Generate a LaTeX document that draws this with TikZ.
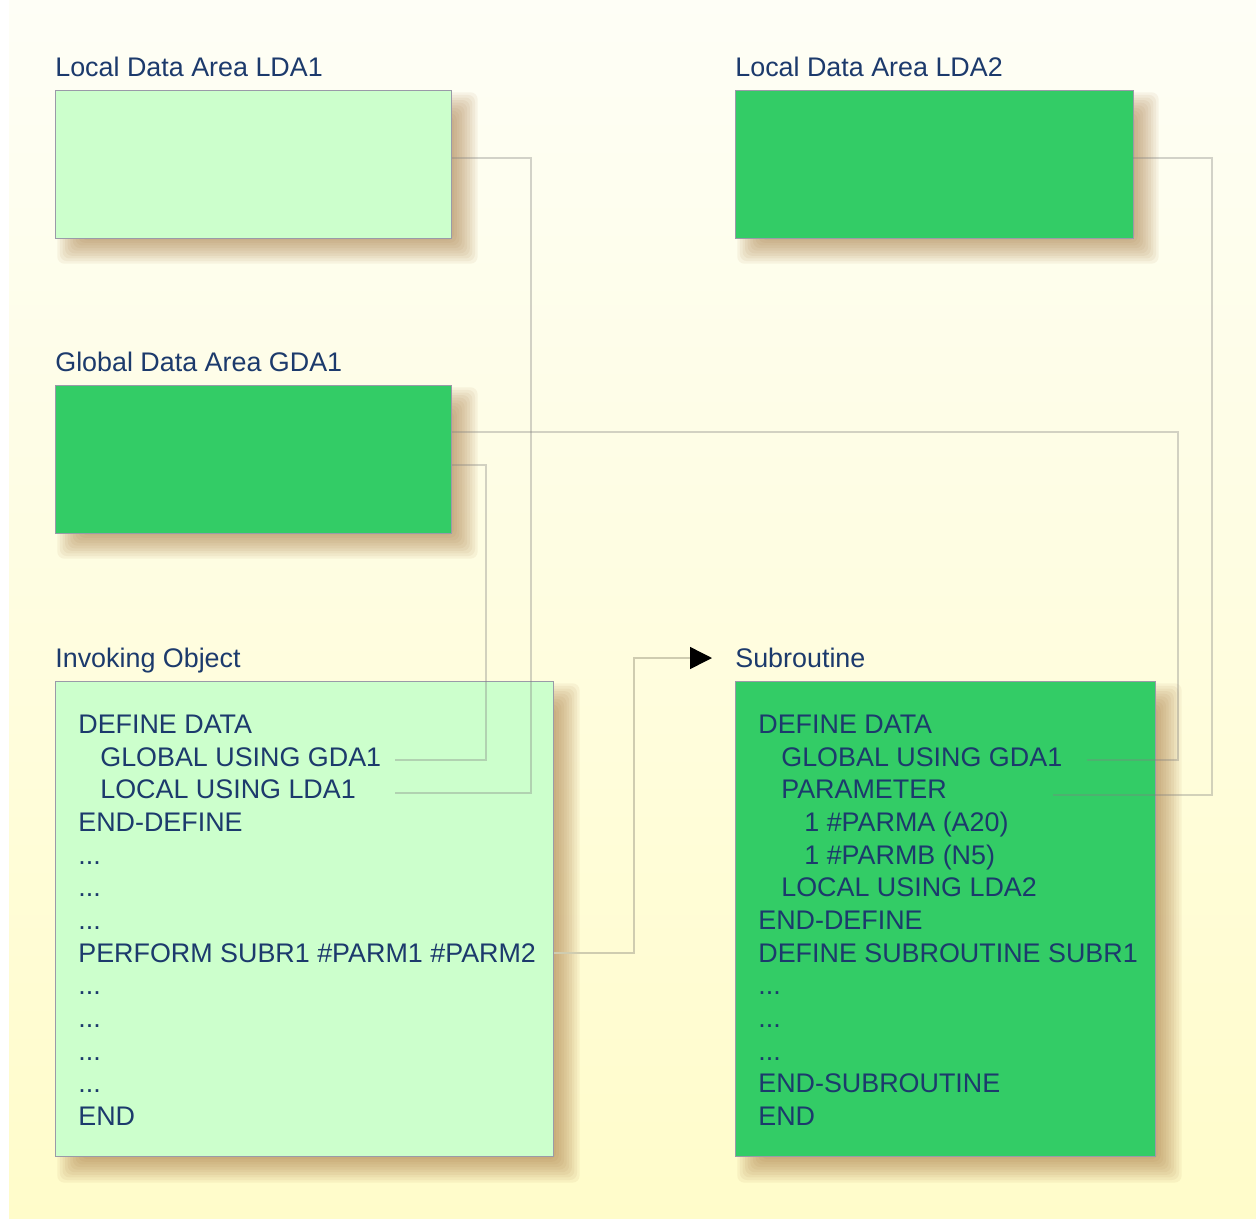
\documentclass[tikz,border=0pt]{standalone}
\usepackage{fontspec}
\setmainfont{Liberation Sans}
\usetikzlibrary{arrows.meta,calc}

\definecolor{navy}{HTML}{1C3A6C}
\definecolor{palegreen}{HTML}{CCFFCC}
\definecolor{areagreen}{HTML}{33CC66}
\definecolor{boxedge}{HTML}{9A9AA8}
\definecolor{shadowtan}{HTML}{A06C34}
\definecolor{feedgray}{HTML}{CFCCB0}

\pgfdeclarelayer{bg}
\pgfdeclarelayer{shade}
\pgfsetlayers{bg,shade,main}

\tikzset{
  area/.style={draw=boxedge, line width=0.5pt, anchor=north west, inner sep=0pt, outer sep=0pt},
  caption/.style={anchor=base west, inner sep=0pt},
  codeline/.style={anchor=base west, inner sep=0pt},
  wire/.style={draw=black!50, draw opacity=0.35, line width=0.8pt},
  feed/.style={draw=feedgray, line width=0.8pt, -{Triangle[length=0.44cm, width=0.44cm, color=black]}}
}

\newcommand\skipped{...}
% soft shadow below and right of a box
\newcommand\boxshadow[1]{%
  \begin{pgfonlayer}{shade}
    \foreach \k [evaluate=\k as \e using 13*(1-(2*\k+1)/10)] in {0,...,9}
      \fill[shadowtan, opacity=0.07, rounded corners=4pt]
        ($(#1.north west)+({14-\e},{14-\e})$) rectangle ($(#1.south east)+({14+\e},{14+\e})$);
  \end{pgfonlayer}}

\begin{document}
\begin{tikzpicture}[x=0.02cm, y=-0.02cm, font=\fontsize{15.3}{18.6}\selectfont, text=navy]
  \useasboundingbox (0,0) rectangle (1256,1220);
  \begin{pgfonlayer}{bg}
    \shade[top color={rgb,255:red,254;green,254;blue,246}, middle color={rgb,255:red,255;green,253;blue,212}, bottom color={rgb,255:red,255;green,252;blue,202}] (9,0) rectangle (1256,1218);
  \end{pgfonlayer}

  % data areas
  \node[caption] (lda1Label) at (55,76) {Local Data Area LDA1};
  \node[area, fill=palegreen, minimum width=7.94cm, minimum height=2.96cm] (lda1) at (55,90) {};
  \node[caption] (lda2Label) at (735,76) {Local Data Area LDA2};
  \node[area, fill=areagreen, minimum width=7.96cm, minimum height=2.96cm] (lda2) at (735,90) {};
  \node[caption] (gda1Label) at (55,371) {Global Data Area GDA1};
  \node[area, fill=areagreen, minimum width=7.94cm, minimum height=2.96cm] (gda1) at (55,385) {};

  % programs
  \node[caption] (invokingLabel) at (55,667) {Invoking Object};
  \node[area, fill=palegreen, minimum width=9.98cm, minimum height=9.52cm] (invoking) at (55,681) {};
  \node[caption] (subLabel) at (735,667) {Subroutine};
  \node[area, fill=areagreen, minimum width=8.42cm, minimum height=9.52cm] (sub) at (735,681) {};

  \foreach \b in {lda1,lda2,gda1,invoking,sub}
    {\boxshadow{\b}}

  \foreach \n/\ind/\txt in {1/0/DEFINE DATA, 2/1/GLOBAL USING GDA1, 3/1/LOCAL USING LDA1,
      4/0/END-DEFINE, 5/0/\skipped, 6/0/\skipped, 7/0/\skipped, 8/0/PERFORM SUBR1 \#PARM1 \#PARM2,
      9/0/\skipped, 10/0/\skipped, 11/0/\skipped, 12/0/\skipped, 13/0/END}
    \node[codeline] (io\n) at ({78+22*\ind},{733.5+32.67*(\n-1)}) {\txt};

  \foreach \n/\ind/\txt in {1/0/DEFINE DATA, 2/1/GLOBAL USING GDA1, 3/1/PARAMETER,
      4/2/1 \#PARMA (A20), 5/2/1 \#PARMB (N5), 6/1/LOCAL USING LDA2, 7/0/END-DEFINE,
      8/0/DEFINE SUBROUTINE SUBR1, 9/0/\skipped, 10/0/\skipped, 11/0/\skipped,
      12/0/END-SUBROUTINE, 13/0/END}
    \node[codeline] (su\n) at ({758+23*\ind},{733.5+32.67*(\n-1)}) {\txt};

  \coordinate (ioGlobalEnd) at (395,760);
  \coordinate (ioLocalEnd) at (395,793);
  \coordinate (suGlobalEnd) at (1087,760);
  \coordinate (suParamEnd) at (1053,795);
  \coordinate (subTip) at (712,658);

  \draw[wire] ([yshift=0.12cm]lda1.east) -- ++(79,0) |- (ioLocalEnd);
  \draw[wire] ([yshift=-0.12cm]gda1.east) -- ++(34,0) |- (ioGlobalEnd);
  \draw[wire] ([yshift=0.54cm]gda1.east) -- ++(726,0) |- (suGlobalEnd);
  \draw[wire] ([yshift=0.12cm]lda2.east) -- ++(79,0) |- (suParamEnd);
  \draw[feed] (invoking.east |- io8) -- ++(80,0) |- (subTip);
\end{tikzpicture}
\end{document}
